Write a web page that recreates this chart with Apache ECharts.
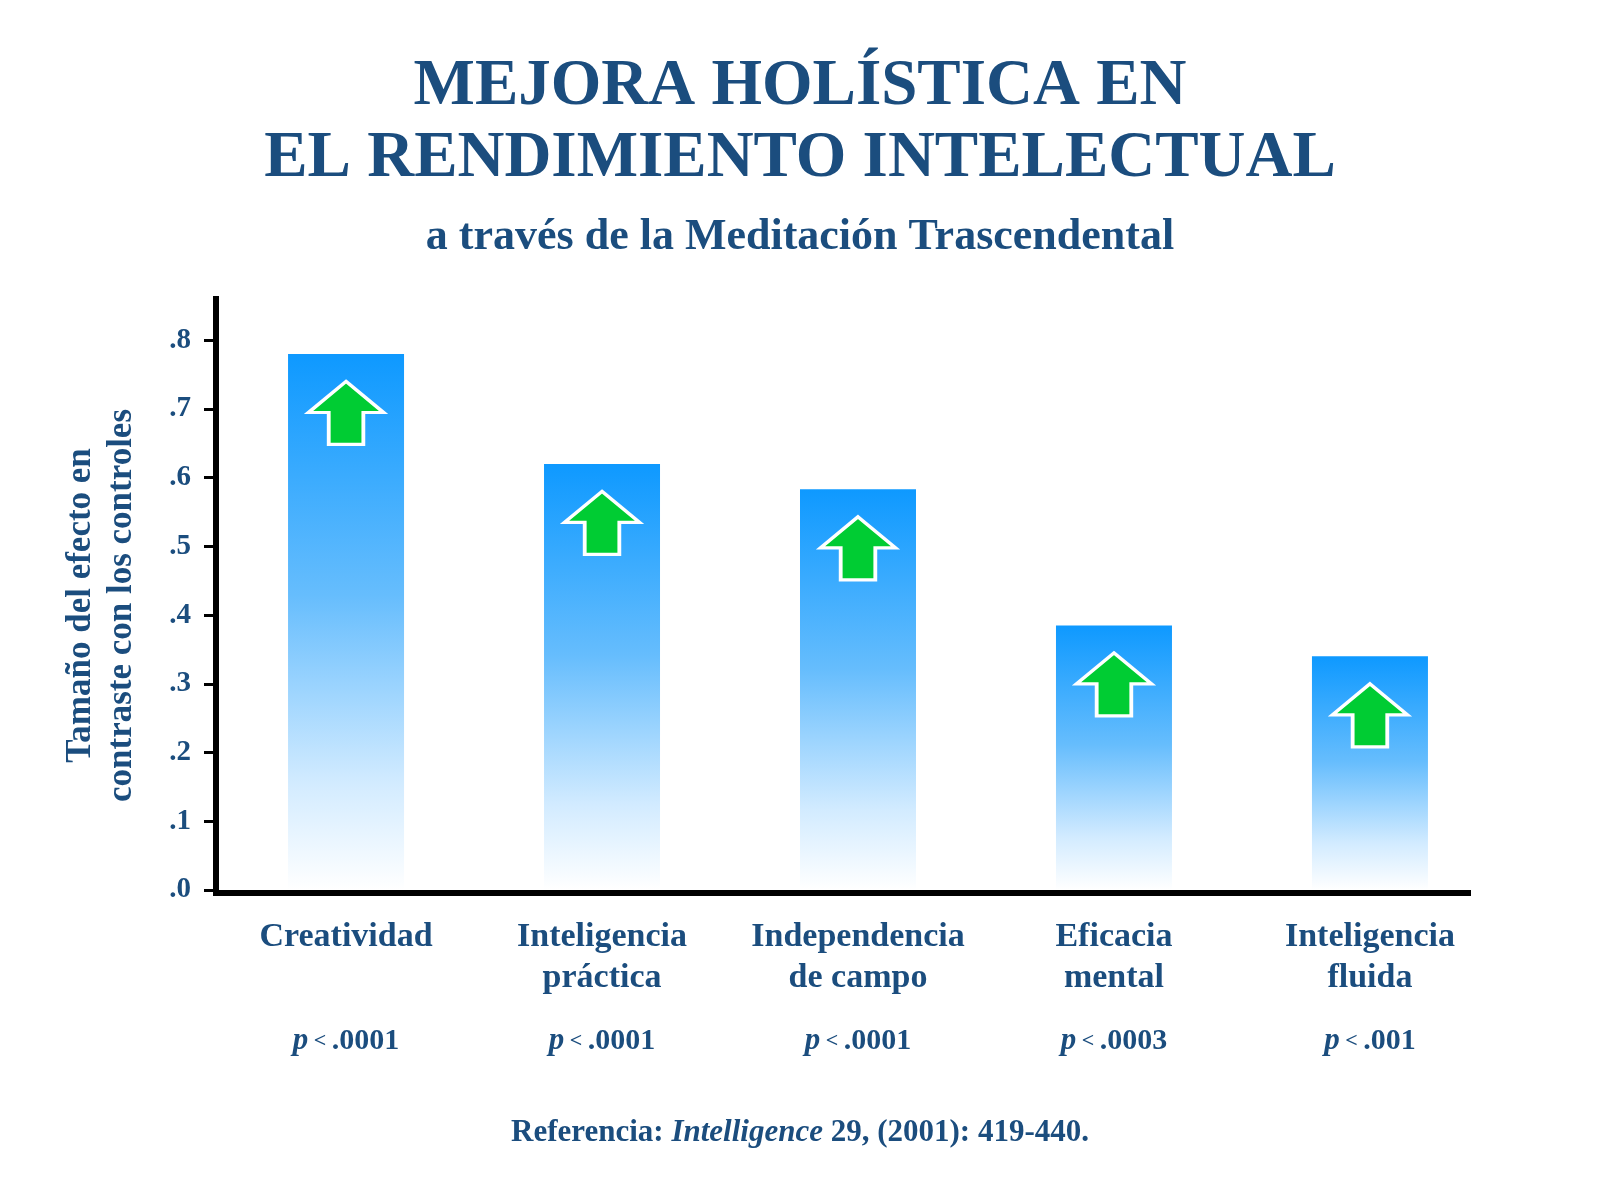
<!DOCTYPE html>
<html lang="es">
<head>
    <meta charset="UTF-8">
    <title>Mejora holística en el rendimiento intelectual</title>
    <script type="text/javascript" src="https://cdn.jsdelivr.net/npm/echarts@6/dist/echarts.min.js"></script>
    <style>
        html, body { margin: 0; padding: 0; background: #fff; }
    </style>
</head>
<body>
    <div id="main" style="width: 1600px; height: 1199px"></div>
    <script type="text/javascript">
        // data
        var categories = ['Creatividad', 'Inteligencia\npráctica', 'Independencia\nde campo', 'Eficacia\nmental', 'Inteligencia\nfluida'];
        var effectSizes = [0.78, 0.62, 0.583, 0.385, 0.34];
        var pValues = ['.0001', '.0001', '.0001', '.0003', '.001'];
        var yTicks = [0, 0.1, 0.2, 0.3, 0.4, 0.5, 0.6, 0.7, 0.8];
        var xPositions = [0, 1, 2, 3, 4];

        var blue = '#1b4d7e';
        var serif = "'Liberation Serif', 'DejaVu Serif', serif";

        var points = effectSizes.map(function (v, i) { return [xPositions[i], v]; });

        var arrowPath = 'path://M39 0 L78 32 L57 32 L57 65 L21 65 L21 32 L0 32 Z';

        var myChart = echarts.init(document.getElementById('main'));
        myChart.setOption({
            animation: false,
            backgroundColor: '#ffffff',
            title: [{
                text: 'MEJORA HOLÍSTICA EN\nEL RENDIMIENTO INTELECTUAL',
                left: 'center',
                top: 46,
                textStyle: {
                    fontFamily: serif,
                    fontWeight: 'bold',
                    fontSize: 65,
                    lineHeight: 72,
                    color: blue
                }
            }, {
                text: 'a través de la Meditación Trascendental',
                left: 'center',
                top: 208,
                textStyle: {
                    fontFamily: serif,
                    fontWeight: 'bold',
                    fontSize: 44,
                    lineHeight: 50,
                    color: blue
                }
            }, {
                text: '{n|Referencia: }{i|Intelligence}{n| 29, (2001): 419-440.}',
                left: 'center',
                top: 1110,
                textStyle: {
                    rich: {
                        n: { fontFamily: serif, fontWeight: 'bold', fontSize: 31, color: blue, lineHeight: 36 },
                        i: { fontFamily: serif, fontWeight: 'bold', fontStyle: 'italic', fontSize: 31, color: blue, lineHeight: 36 }
                    }
                }
            }],
            grid: {
                left: 216,
                right: 132,
                top: 299,
                bottom: 309,
                containLabel: false
            },
            xAxis: {
                type: 'value',
                min: -0.508,
                max: 4.383,
                offset: 3,
                splitLine: { show: false },
                axisLine: {
                    show: true,
                    onZero: false,
                    lineStyle: { color: '#000', width: 6, cap: 'square' }
                },
                axisTick: { show: false },
                axisLabel: {
                    customValues: xPositions,
                    margin: 24,
                    verticalAlign: 'top',
                    formatter: function (v) {
                        var i = Math.round(v);
                        var lines = categories[i].split('\n');
                        if (lines.length < 2) lines.push(' ');
                        return '{c|' + lines[0] + '}\n{c|' + lines[1] + '}\n{p|p}{lt| < }{v|' + pValues[i] + '}';
                    },
                    rich: {
                        c: { fontFamily: serif, fontWeight: 'bold', fontSize: 34, lineHeight: 41, color: blue },
                        p: { fontFamily: serif, fontWeight: 'bold', fontStyle: 'italic', fontSize: 31, lineHeight: 84, color: blue },
                        lt: { fontFamily: serif, fontWeight: 'bold', fontSize: 22, lineHeight: 84, color: blue },
                        v: { fontFamily: serif, fontWeight: 'bold', fontSize: 30, lineHeight: 84, color: blue }
                    }
                }
            },
            yAxis: {
                type: 'value',
                min: 0,
                max: 0.86,
                name: 'Tamaño del efecto en\ncontraste con los controles',
                nameLocation: 'middle',
                nameRotate: 90,
                nameGap: 74,
                nameTextStyle: {
                    fontFamily: serif,
                    fontWeight: 'bold',
                    fontSize: 35,
                    lineHeight: 41,
                    color: blue,
                    padding: [0, 22, 0, 0]
                },
                splitLine: { show: false },
                axisLine: {
                    show: true,
                    onZero: false,
                    lineStyle: { color: '#000', width: 6, cap: 'square' }
                },
                axisTick: {
                    show: true,
                    customValues: yTicks,
                    length: 12,
                    lineStyle: { color: '#000', width: 3 }
                },
                axisLabel: {
                    customValues: yTicks,
                    margin: 25,
                    fontFamily: serif,
                    fontWeight: 'bold',
                    fontSize: 29,
                    color: blue,
                    formatter: function (v) {
                        return v.toFixed(1).replace(/^0/, '');
                    }
                }
            },
            series: [{
                type: 'bar',
                data: points,
                barWidth: 116,
                itemStyle: {
                    color: new echarts.graphic.LinearGradient(0, 0, 0, 1, [
                        { offset: 0, color: '#0e99ff' },
                        { offset: 0.45, color: '#66bdfd' },
                        { offset: 0.8, color: '#d2ebff' },
                        { offset: 1, color: '#ffffff' }
                    ])
                },
                z: 2
            }, {
                type: 'scatter',
                data: points,
                symbol: arrowPath,
                symbolSize: [75, 63],
                symbolOffset: [0, 59],
                symbolKeepAspect: false,
                itemStyle: {
                    color: '#00cc33',
                    borderColor: '#ffffff',
                    borderWidth: 3.5,
                    opacity: 1
                },
                z: 5
            }]
        });
    </script>
</body>
</html>
